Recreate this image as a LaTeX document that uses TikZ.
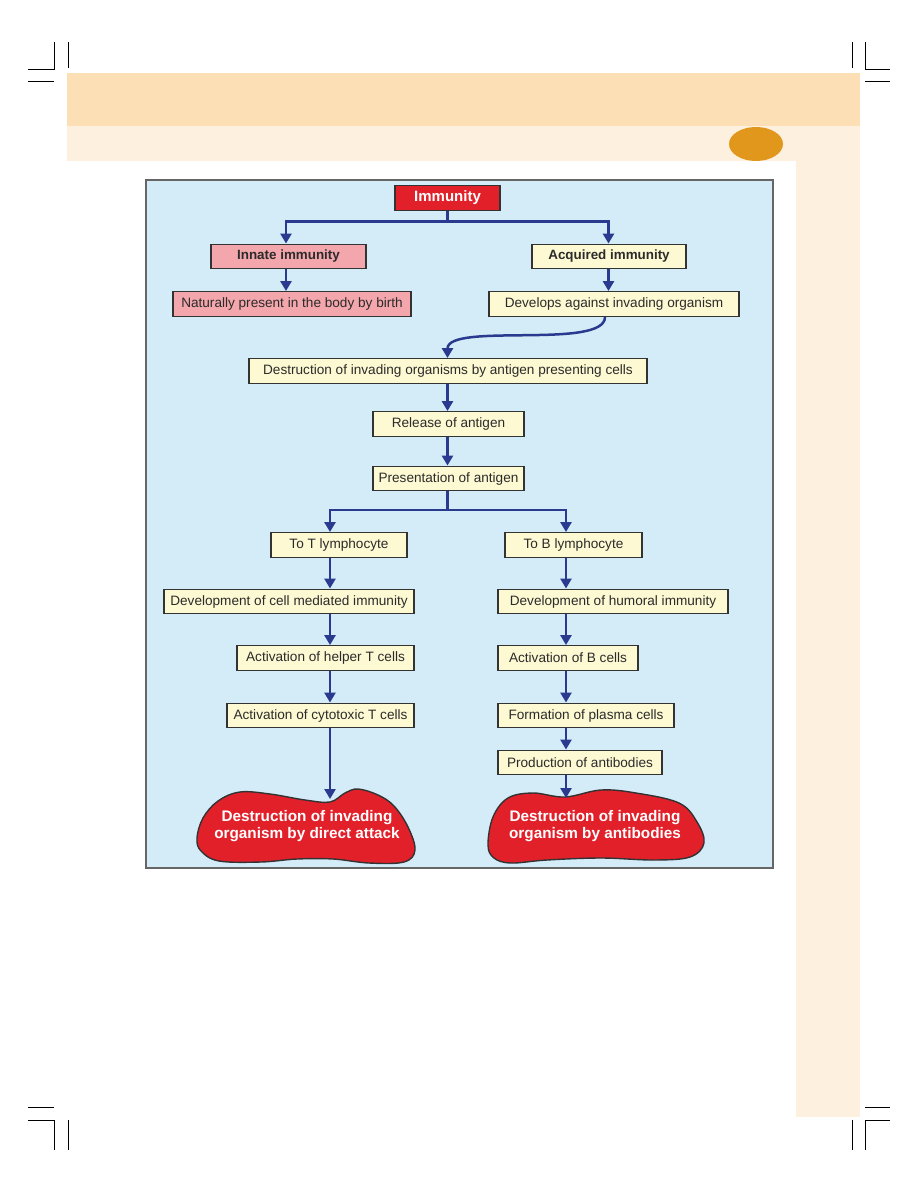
\documentclass[tikz,border=0pt]{standalone}
\usepackage{fontspec}
\setmainfont{Liberation Sans}
\usetikzlibrary{arrows.meta,calc}
\definecolor{orangeband}{HTML}{FDDFB5}
\definecolor{lightband}{HTML}{FEF0DE}
\definecolor{tabcol}{HTML}{E1961C}
\definecolor{skyfill}{HTML}{D3ECF8}
\definecolor{creamfill}{HTML}{FDF9D2}
\definecolor{pinkfill}{HTML}{F3A6AB}
\definecolor{redfill}{HTML}{E2202A}
\definecolor{navy}{HTML}{2A3A8F}
\definecolor{edge}{HTML}{333333}
\definecolor{txt}{HTML}{2B2B2B}
\begin{document}
\begin{tikzpicture}[x=1pt,y=-1pt,
  box/.style={draw=edge, line width=1.4pt, fill=creamfill, minimum height=24.5pt,
    inner sep=0pt, text=txt, font=\fontsize{13.6}{15}\selectfont},
  pinkbox/.style={box, fill=pinkfill},
  boldbox/.style={box, font=\bfseries\fontsize{13.4}{15}\selectfont},
  topbox/.style={box, fill=redfill, text=white, font=\bfseries\fontsize{15}{17}\selectfont},
  blob/.style={draw=edge, line width=1.4pt, fill=redfill},
  blobtext/.style={text=white, align=center, font=\bfseries\fontsize{15.3}{17}\selectfont},
  conn/.style={draw=navy, line width=2.5pt},
  arr/.style={conn, -{Triangle[width=11pt,length=10pt]}},
  crop/.style={draw=black, line width=0.9pt}
]
\useasboundingbox (0,0) rectangle (918,1188);
% page decoration
\fill[orangeband] (67,73) rectangle (860,126);
\fill[lightband] (67,126) rectangle (860,161);
\fill[lightband] (796,161) rectangle (860,1117);
\fill[tabcol] (756,144) ellipse [x radius=27, y radius=17];
% crop marks
\draw[crop] (54.5,42) -- (54.5,69) -- (28,69);
\draw[crop] (68.5,42) -- (68.5,68);
\draw[crop] (28,81) -- (54,81);
\draw[crop] (852,42) -- (852,68);
\draw[crop] (865,42) -- (865,69) -- (890,69);
\draw[crop] (865,81) -- (890,81);
\draw[crop] (28,1107) -- (54,1107);
\draw[crop] (28,1120) -- (54.5,1120) -- (54.5,1150);
\draw[crop] (68.5,1120) -- (68.5,1150);
\draw[crop] (865,1107) -- (890,1107);
\draw[crop] (890,1120) -- (865,1120) -- (865,1150);
\draw[crop] (852,1120) -- (852,1150);
% panel
\draw[fill=skyfill, draw=black!60, line width=1.5pt] (146,180) rectangle (773,868);
% column coordinates
\coordinate (xC) at (447.5,0);
\coordinate (xI) at (286,0);
\coordinate (xA) at (608.5,0);
\coordinate (xD) at (605,0);
\coordinate (xL) at (330,0);
\coordinate (xR) at (566,0);
% nodes
\node[topbox, minimum width=105pt] (imm) at (447.5,198) {Immunity};
\node[boldbox, fill=pinkfill, minimum width=155pt] (innate) at (288.5,256.5) {Innate immunity};
\node[boldbox, minimum width=154pt] (acq) at (609,256.5) {Acquired immunity};
\node[pinkbox, minimum width=238pt] (nat) at (292,304) {Naturally present in the body by birth};
\node[box, minimum width=250pt] (dev) at (614,304) {Develops against invading organism};
\node[box, minimum width=398pt] (apc) at (448,371) {Destruction of invading organisms by antigen presenting cells};
\node[box, minimum width=151pt] (rel) at (448.5,424) {Release of antigen};
\node[box, minimum width=151pt] (pres) at (448.5,478.5) {Presentation of antigen};
\node[box, minimum width=136pt] (tly) at (339,545) {To T lymphocyte};
\node[box, minimum width=137pt] (bly) at (573.5,545) {To B lymphocyte};
\node[box, minimum width=250pt] (cmi) at (289,601.5) {Development of cell mediated immunity};
\node[box, minimum width=230pt] (hum) at (613,601.5) {Development of humoral immunity};
\node[box, minimum width=177pt] (helper) at (325.5,658) {Activation of helper T cells};
\node[box, minimum width=140pt] (bcell) at (568,658) {Activation of B cells};
\node[box, minimum width=187pt] (cyto) at (320.5,715.5) {Activation of cytotoxic T cells};
\node[box, minimum width=176pt] (plasma) at (586,715.5) {Formation of plasma cells};
\node[box, minimum width=164pt] (prod) at (580,762.5) {Production of antibodies};
% blobs
\draw[blob] plot[smooth cycle, tension=0.6] coordinates {(197,838) (203,818) (218,801) (240,792) (270,794) (305,800) (330,802) (345,793) (358,789) (378,795) (394,806) (408,827) (415,850) (404,862) (369,863) (333,859) (297,859) (261,862) (219,861) (201,851)};
\draw[blob] plot[smooth cycle, tension=0.6] coordinates {(488,845) (493,817) (508,798) (533,793) (565,797) (601,790) (636,793) (679,803) (697,822) (704,843) (690,857) (654,860) (601,858) (547,860) (511,863) (494,858)};
\node[blobtext] (blobL) at (307,826) {Destruction of invading\\organism by direct attack};
\node[blobtext] (blobR) at (595,826) {Destruction of invading\\organism by antibodies};
\coordinate (blobLtop) at (330,799);
\coordinate (blobRtop) at (566,798);
% connectors
\coordinate (j1) at (447.5,221.5);
\draw[conn] (imm.south -| xC) -- (j1);
\draw[arr] (j1) -| (innate.north -| xI);
\draw[arr] (j1) -| (acq.north -| xA);
\draw[arr] (innate.south -| xI) -- (nat.north -| xI);
\draw[arr] (acq.south -| xA) -- (dev.north -| xA);
\draw[arr] (dev.south -| xD) .. controls (605,350) and (447.5,322) .. (apc.north -| xC);
\draw[arr] (apc.south -| xC) -- (rel.north -| xC);
\draw[arr] (rel.south -| xC) -- (pres.north -| xC);
\coordinate (j2) at (447.5,510);
\draw[conn] (pres.south -| xC) -- (j2);
\draw[arr] (j2) -| (tly.north -| xL);
\draw[arr] (j2) -| (bly.north -| xR);
\draw[arr] (tly.south -| xL) -- (cmi.north -| xL);
\draw[arr] (cmi.south -| xL) -- (helper.north -| xL);
\draw[arr] (helper.south -| xL) -- (cyto.north -| xL);
\draw[arr] (cyto.south -| xL) -- (blobLtop);
\draw[arr] (bly.south -| xR) -- (hum.north -| xR);
\draw[arr] (hum.south -| xR) -- (bcell.north -| xR);
\draw[arr] (bcell.south -| xR) -- (plasma.north -| xR);
\draw[arr] (plasma.south -| xR) -- (prod.north -| xR);
\draw[arr] (prod.south -| xR) -- (blobRtop);
\end{tikzpicture}
\end{document}
